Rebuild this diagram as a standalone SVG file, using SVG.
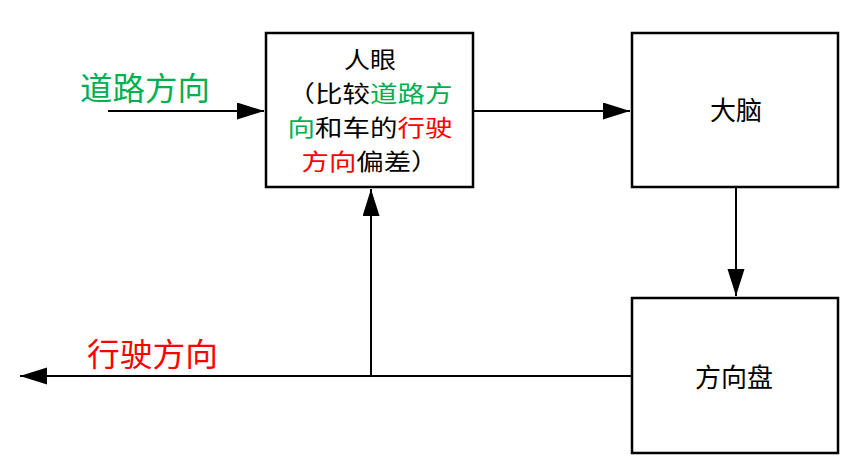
<svg xmlns="http://www.w3.org/2000/svg" width="859" height="471" viewBox="0 0 859 471">
<defs>
<style>
.box{fill:#fff;stroke:#000;stroke-width:2.5}
.ln{fill:none;stroke:#000;stroke-width:2}
.t{font-family:"Noto Sans CJK SC","Noto Sans CJK JP",sans-serif;font-size:26px;fill:#000;text-anchor:middle}
.s{font-size:23px}
.lbl{font-family:"Noto Sans CJK SC","Noto Sans CJK JP",sans-serif;font-size:32px}
.g{fill:#00B050}
.r{fill:#FF0000}
</style>
<marker id="ah" markerUnits="userSpaceOnUse" markerWidth="28" markerHeight="18" refX="27" refY="8.5" orient="auto">
<path d="M0,0 L27,8.5 L0,17 Z" fill="#000"/>
</marker>
</defs>
<g id="connectors">
<path class="ln" d="M108,111 L264,111" marker-end="url(#ah)"/>
<path class="ln" d="M473,111 L630,111" marker-end="url(#ah)"/>
<path class="ln" d="M736,187 L736,296" marker-end="url(#ah)"/>
<path class="ln" d="M632,376 L20,376" marker-end="url(#ah)"/>
<path class="ln" d="M371,376 L371,189" marker-end="url(#ah)"/>
</g>
<g id="label-road">
<text class="lbl g" x="80" y="100" textLength="130" lengthAdjust="spacingAndGlyphs">道路方向</text>
</g>
<g id="label-drive">
<text class="lbl r" x="87" y="366" textLength="131" lengthAdjust="spacingAndGlyphs">行驶方向</text>
</g>
<g id="eye">
<rect class="box" x="266" y="33" width="207" height="154"/>
<text class="t s" x="370" y="68" textLength="52" lengthAdjust="spacingAndGlyphs">人眼</text>
<text class="t s" x="370" y="102" textLength="165" lengthAdjust="spacingAndGlyphs">（比较<tspan class="g">道路方</tspan></text>
<text class="t s" x="370" y="136" textLength="165" lengthAdjust="spacingAndGlyphs"><tspan class="g">向</tspan>和车的<tspan class="r">行驶</tspan></text>
<text class="t s" x="370" y="170" textLength="137" lengthAdjust="spacingAndGlyphs"><tspan class="r">方向</tspan>偏差）</text>
</g>
<g id="brain">
<rect class="box" x="632" y="33" width="206" height="154"/>
<text class="t" x="736" y="120">大脑</text>
</g>
<g id="wheel">
<rect class="box" x="632" y="298" width="206" height="155"/>
<text class="t" x="734" y="387">方向盘</text>
</g>
</svg>
